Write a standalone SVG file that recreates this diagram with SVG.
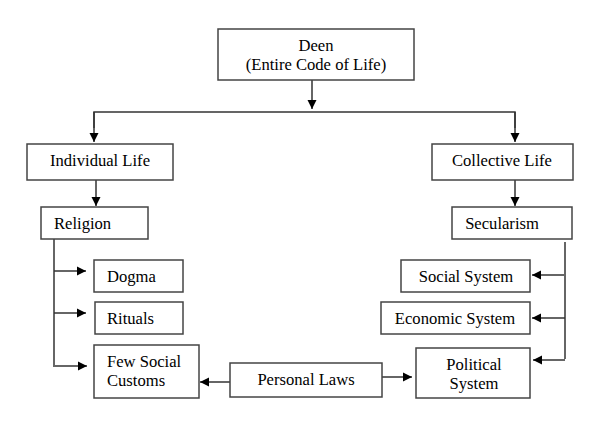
<svg xmlns="http://www.w3.org/2000/svg" width="598" height="442" viewBox="0 0 598 442">
<defs>
<marker id="ah" markerWidth="10" markerHeight="10" refX="9" refY="5" orient="auto" markerUnits="userSpaceOnUse">
<path d="M0,0.5 L9,5 L0,9.5 Z" fill="#000"/>
</marker>
<style>
.box{fill:#fff;stroke:#444;stroke-width:1.5}
.t{font-family:"Liberation Serif","Times New Roman",serif;font-size:16.6px;fill:#000}
.m{text-anchor:middle}
.c{fill:none;stroke:#333;stroke-width:1.5}
.a{fill:none;stroke:#333;stroke-width:1.5;marker-end:url(#ah)}
</style>
</defs>
<rect width="598" height="442" fill="#fff"/>
<g id="connectors">
<line class="a" x1="312" y1="80" x2="312" y2="109"/>
<polyline class="c" points="94,128 94,112 515,112 515,128"/>
<line class="a" x1="94" y1="112" x2="94" y2="142"/>
<line class="a" x1="515" y1="112" x2="515" y2="142"/>
<line class="a" x1="96" y1="180" x2="96" y2="206"/>
<line class="a" x1="515" y1="180" x2="515" y2="206"/>
<line class="c" x1="54" y1="239" x2="54" y2="367"/>
<line class="a" x1="54" y1="271" x2="86" y2="271"/>
<line class="a" x1="54" y1="313" x2="86" y2="313"/>
<line class="a" x1="55" y1="366" x2="87" y2="366"/>
<line class="c" x1="565" y1="242" x2="565" y2="359"/>
<line class="a" x1="564" y1="275" x2="532" y2="275"/>
<line class="a" x1="565" y1="318" x2="532" y2="318"/>
<line class="a" x1="565" y1="360" x2="533" y2="360"/>
<line class="a" x1="230" y1="382" x2="200" y2="382"/>
<line class="a" x1="382" y1="377" x2="412" y2="377"/>
</g>
<g id="deen">
<rect class="box" x="218" y="29" width="196" height="51"/>
<text class="t m" x="316" y="51">Deen</text>
<text class="t m" x="316" y="70">(Entire Code of Life)</text>
</g>
<g id="individual">
<rect class="box" x="27" y="144" width="146" height="36"/>
<text class="t m" x="100" y="166">Individual Life</text>
</g>
<g id="collective">
<rect class="box" x="432" y="144" width="141" height="36"/>
<text class="t m" x="502" y="166">Collective Life</text>
</g>
<g id="religion">
<rect class="box" x="41" y="207" width="107" height="32"/>
<text class="t" x="54" y="229">Religion</text>
</g>
<g id="secularism">
<rect class="box" x="452" y="207" width="120" height="32"/>
<text class="t m" x="502" y="229">Secularism</text>
</g>
<g id="dogma">
<rect class="box" x="94" y="260" width="89" height="32"/>
<text class="t" x="107" y="282">Dogma</text>
</g>
<g id="rituals">
<rect class="box" x="95" y="302" width="88" height="32"/>
<text class="t" x="107" y="324">Rituals</text>
</g>
<g id="customs">
<rect class="box" x="94" y="345" width="105" height="53"/>
<text class="t" x="107" y="367">Few Social</text>
<text class="t" x="107" y="386">Customs</text>
</g>
<g id="personal">
<rect class="box" x="230" y="363" width="152" height="34"/>
<text class="t m" x="306" y="385">Personal Laws</text>
</g>
<g id="social">
<rect class="box" x="401" y="260" width="129" height="32"/>
<text class="t m" x="466" y="282">Social System</text>
</g>
<g id="economic">
<rect class="box" x="381" y="302" width="149" height="32"/>
<text class="t m" x="455" y="324">Economic System</text>
</g>
<g id="political">
<rect class="box" x="416" y="348" width="114" height="50"/>
<text class="t m" x="474" y="370">Political</text>
<text class="t m" x="474" y="389">System</text>
</g>
</svg>
